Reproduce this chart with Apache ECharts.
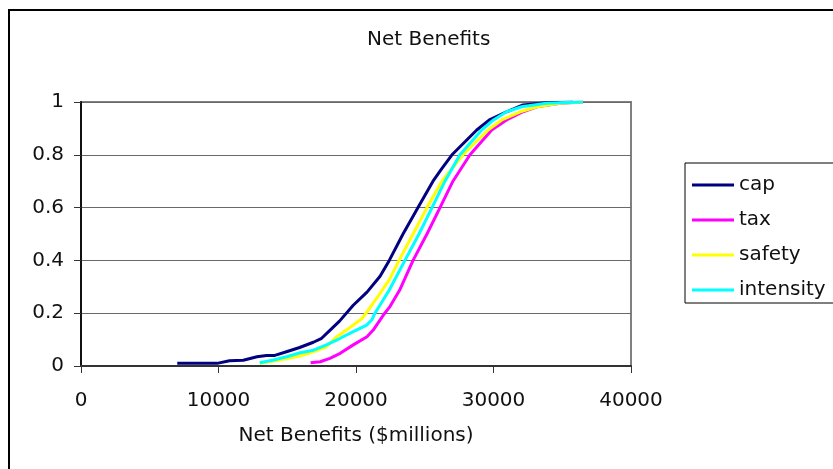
<!DOCTYPE html>
<html>
<head>
<meta charset="utf-8">
<script src="https://cdn.jsdelivr.net/npm/echarts@6/dist/echarts.min.js"></script>
<style>
  html, body { margin: 0; padding: 0; background: #fff; }
  #chart { width: 833px; height: 469px; }
</style>
</head>
<body>
<div id="chart"></div>
<script>
// Cumulative distributions of net benefits ($millions) for four policy designs.
// Each point: [net benefits, cumulative probability]
const seriesNames = ['cap', 'tax', 'safety', 'intensity'];

const cap = [
  [7000, 0.01], [9900, 0.01], [10800, 0.02], [11800, 0.022], [12800, 0.035],
  [13500, 0.04], [14100, 0.04], [15000, 0.055], [15900, 0.07], [16900, 0.09],
  [17500, 0.105], [18100, 0.135], [18800, 0.17], [19800, 0.23], [20800, 0.28],
  [21750, 0.34], [22420, 0.40], [23420, 0.50], [24510, 0.60], [25600, 0.70],
  [26200, 0.745], [26980, 0.80], [27800, 0.843], [28780, 0.894],
  [29700, 0.932], [30950, 0.963], [32150, 0.989], [33850, 0.997], [35800, 1.0]
];

const tax = [
  [16700, 0.012], [17400, 0.016], [18100, 0.029], [18850, 0.048], [19800, 0.08],
  [20800, 0.111], [21250, 0.136], [21990, 0.193], [22470, 0.225], [23200, 0.29],
  [24150, 0.40], [25160, 0.50], [26110, 0.60], [27050, 0.70], [28290, 0.80],
  [29870, 0.894], [30950, 0.932], [32150, 0.963], [33150, 0.982],
  [34850, 0.995], [36500, 1.0]
];

const safety = [
  [13000, 0.01], [14450, 0.023], [15900, 0.038], [16900, 0.054], [17850, 0.073],
  [18600, 0.111], [19300, 0.136], [20440, 0.18], [20730, 0.20], [21750, 0.275],
  [22420, 0.326], [23130, 0.40], [24150, 0.50], [25160, 0.60], [26250, 0.70],
  [27780, 0.80], [29600, 0.894], [30600, 0.932], [31950, 0.963],
  [33150, 0.982], [34850, 0.995], [36500, 1.0]
];

const intensity = [
  [13000, 0.0125], [14000, 0.023], [14950, 0.035], [15950, 0.05], [16900, 0.06],
  [17850, 0.08], [18850, 0.105], [19800, 0.13], [20780, 0.155], [21140, 0.174],
  [21380, 0.20], [22420, 0.288], [23560, 0.40], [24580, 0.50], [25530, 0.60],
  [26470, 0.70], [27560, 0.80], [29140, 0.894], [30000, 0.932], [30950, 0.963],
  [32050, 0.982], [33850, 0.995], [36500, 1.0]
];

const seriesData = [cap, tax, safety, intensity];
const seriesColors = ['#000080', '#ff00ff', '#ffff00', '#00ffff'];

const chartTitle = 'Net Benefits';
const xAxisTitle = 'Net Benefits ($millions)';

const FONT = 'DejaVu Sans';

const chart = echarts.init(document.getElementById('chart'), null, { renderer: 'canvas' });

chart.setOption({
  animation: false,
  backgroundColor: '#ffffff',
  graphic: [
    {
      type: 'rect',
      z: -10,
      silent: true,
      shape: { x: 9, y: 10, width: 1000, height: 1000 },
      style: { fill: 'none', stroke: '#000000', lineWidth: 2 }
    },
    {
      type: 'text',
      left: 367,
      top: 30,
      silent: true,
      style: {
        text: chartTitle,
        font: '20px "' + FONT + '"',
        fill: '#111111'
      }
    }
  ],
  grid: {
    left: 81,
    right: 202,
    top: 102,
    bottom: 103,
    show: true,
    borderColor: '#808080',
    borderWidth: 2,
    backgroundColor: 'transparent'
  },
  legend: {
    orient: 'vertical',
    left: 685,
    top: 163,
    data: seriesNames,
    icon: 'rect',
    itemWidth: 42,
    itemHeight: 3,
    itemGap: 15,
    padding: [12, 40, 3, 7],
    borderColor: '#000000',
    borderWidth: 1,
    backgroundColor: '#ffffff',
    textStyle: {
      fontFamily: FONT,
      fontSize: 20,
      lineHeight: 20,
      color: '#111111'
    }
  },
  xAxis: {
    type: 'value',
    min: 0,
    max: 40000,
    interval: 10000,
    name: xAxisTitle,
    nameLocation: 'middle',
    nameGap: 60,
    nameTextStyle: { fontFamily: FONT, fontSize: 20, color: '#111111' },
    axisLine: { show: true, lineStyle: { color: '#333333', width: 2 } },
    axisTick: { show: true, inside: false, length: 7, lineStyle: { color: '#333333', width: 1 } },
    axisLabel: {
      margin: 25,
      fontFamily: FONT,
      fontSize: 20,
      color: '#111111',
      formatter: (v) => String(v)
    },
    splitLine: { show: false }
  },
  yAxis: {
    type: 'value',
    min: 0,
    max: 1,
    interval: 0.2,
    axisLine: { show: true, lineStyle: { color: '#111111', width: 2 } },
    axisTick: { show: true, inside: false, length: 7, lineStyle: { color: '#333333', width: 1 } },
    axisLabel: { margin: 17, fontFamily: FONT, fontSize: 20, color: '#111111' },
    splitLine: { show: true, lineStyle: { color: '#6a6a6a', width: 1 } }
  },
  series: seriesNames.map((name, i) => ({
    name: name,
    type: 'line',
    data: seriesData[i],
    showSymbol: false,
    symbol: 'none',
    color: seriesColors[i],
    lineStyle: { color: seriesColors[i], width: 3 },
    z: 2 + i
  }))
});
</script>
</body>
</html>
